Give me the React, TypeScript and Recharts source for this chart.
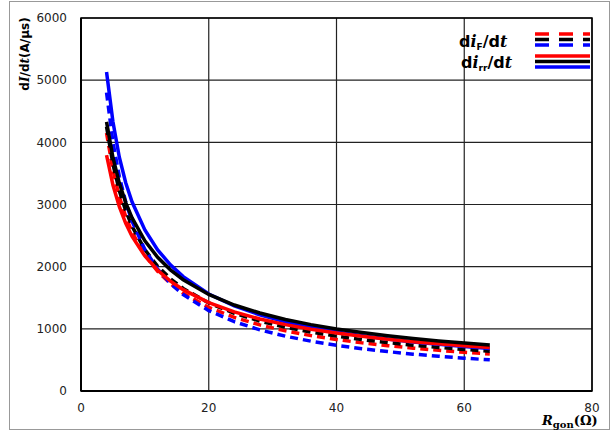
import { LineChart, Line, XAxis, YAxis, CartesianGrid, ReferenceArea } from "recharts";

// gate resistance (ohm)
const rgon = [4, 5, 6, 7, 8, 10, 12, 14, 16, 20, 24, 28, 32, 36, 40, 44, 48, 52, 56, 60, 64];

// diF/dt (dashed)
const diFRed = [4150, 3550, 3125, 2805, 2555, 2185, 1924, 1727, 1572, 1345, 1184, 1063, 968, 891, 828, 774, 729, 689, 654, 623, 596];
const diFBlack = [4250, 3649, 3222, 2900, 2647, 2273, 2007, 1806, 1649, 1416, 1250, 1125, 1027, 948, 882, 826, 779, 737, 701, 669, 640];
const diFBlue = [4800, 4002, 3449, 3042, 2728, 2275, 1960, 1729, 1551, 1293, 1115, 983, 882, 801, 735, 680, 634, 593, 559, 528, 501];

// dirr/dt (solid)
const dirrRed = [3796, 3313, 2964, 2698, 2487, 2171, 1942, 1768, 1630, 1422, 1272, 1158, 1068, 994, 932, 879, 834, 794, 759, 728, 700];
const dirrBlack = [4330, 3756, 3345, 3031, 2785, 2415, 2151, 1949, 1790, 1553, 1383, 1254, 1151, 1068, 999, 940, 889, 845, 806, 772, 740];
const dirrBlue = [5130, 4330, 3760, 3350, 3040, 2590, 2270, 2030, 1840, 1560, 1370, 1225, 1115, 1025, 950, 890, 835, 790, 750, 715, 685];

const xTicks = [0, 20, 40, 60, 80];
const yTicks = [0, 1000, 2000, 3000, 4000, 5000, 6000];

const data = rgon.map((r, i) => ({
  r,
  fRed: diFRed[i],
  fBlack: diFBlack[i],
  fBlue: diFBlue[i],
  rrRed: dirrRed[i],
  rrBlack: dirrBlack[i],
  rrBlue: dirrBlue[i],
}));

const tickFont = { fontFamily: "DejaVu Sans", fontSize: 12, fill: "#222" };
const dash = "8 5";

const App = () => {
  return (
    <div style={{ position: "absolute", left: 0, top: 0, width: 613, height: 432 }}>
      <div
        style={{
          position: "absolute",
          left: 9,
          top: 1,
          width: 601,
          height: 429,
          border: "1px solid #999",
          boxSizing: "border-box",
        }}
      />
      <LineChart
        width={613}
        height={432}
        data={data}
        margin={{ top: 18, right: 21, bottom: 11, left: 21 }}
        style={{ position: "absolute", left: 0, top: 0 }}
      >
        <CartesianGrid stroke="#222" strokeWidth={1.2} />
        <ReferenceArea x1={0} x2={80} y1={0} y2={6000} fill="none" stroke="#000" strokeWidth={1.5} ifOverflow="visible" />
        <XAxis
          dataKey="r"
          type="number"
          domain={[0, 80]}
          ticks={xTicks}
          tick={tickFont}
          tickLine={false}
          axisLine={{ stroke: "#000", strokeWidth: 2 }}
          height={30}
          tickMargin={6}
        />
        <YAxis
          type="number"
          domain={[0, 6000]}
          ticks={yTicks}
          tick={tickFont}
          tickLine={false}
          axisLine={{ stroke: "#000", strokeWidth: 2 }}
          width={60}
          tickMargin={8}
        />
        <Line dataKey="fRed" stroke="#ff0000" strokeWidth={3.5} strokeDasharray={dash} dot={false} isAnimationActive={false} />
        <Line dataKey="fBlack" stroke="#000000" strokeWidth={3.5} strokeDasharray={dash} dot={false} isAnimationActive={false} />
        <Line dataKey="fBlue" stroke="#0000ff" strokeWidth={3.5} strokeDasharray={dash} dot={false} isAnimationActive={false} />
        <Line dataKey="rrBlue" stroke="#0000ff" strokeWidth={3.5} dot={false} isAnimationActive={false} />
        <Line dataKey="rrRed" stroke="#ff0000" strokeWidth={3.5} dot={false} isAnimationActive={false} />
        <Line dataKey="rrBlack" stroke="#000000" strokeWidth={3.5} dot={false} isAnimationActive={false} />
      </LineChart>
      <svg width={613} height={432} style={{ position: "absolute", left: 0, top: 0, pointerEvents: "none" }}>
        <text
          transform="translate(29,54) rotate(-90)"
          textAnchor="middle"
          fontFamily="DejaVu Sans"
          fontWeight="bold"
          fontSize={12}
          fill="#000"
        >
          d<tspan fontFamily="DejaVu Serif" fontStyle="italic">I</tspan>/d
          <tspan fontFamily="DejaVu Serif" fontStyle="italic">t</tspan>(A/μs)
        </text>
        <text x={542} y={425} fontFamily="DejaVu Serif" fontWeight="bold" fontSize={13} fill="#000">
          <tspan fontStyle="italic">R</tspan>
          <tspan fontSize={10} dy={3}>gon</tspan>
          <tspan dy={-3}>(Ω)</tspan>
        </text>
        <text x={459} y={47} fontFamily="DejaVu Sans" fontWeight="bold" fontSize={16} fill="#000">
          d<tspan fontFamily="DejaVu Serif" fontStyle="italic">i</tspan>
          <tspan fontSize={9} dy={3}>F</tspan>
          <tspan dy={-3}>/d</tspan>
          <tspan fontFamily="DejaVu Serif" fontStyle="italic">t</tspan>
        </text>
        <text x={461} y={68} fontFamily="DejaVu Sans" fontWeight="bold" fontSize={16} fill="#000">
          d<tspan fontFamily="DejaVu Serif" fontStyle="italic">i</tspan>
          <tspan fontSize={9} dy={3}>rr</tspan>
          <tspan dy={-3}>/d</tspan>
          <tspan fontFamily="DejaVu Serif" fontStyle="italic">t</tspan>
        </text>
        <line x1={535} x2={590} y1={34} y2={34} stroke="#ff0000" strokeWidth={3.5} strokeDasharray="14 10" />
        <line x1={535} x2={590} y1={39.5} y2={39.5} stroke="#000" strokeWidth={3.5} strokeDasharray="14 10" />
        <line x1={535} x2={590} y1={45} y2={45} stroke="#0000ff" strokeWidth={3.5} strokeDasharray="14 10" />
        <line x1={535} x2={590} y1={56} y2={56} stroke="#ff0000" strokeWidth={3.5} />
        <line x1={535} x2={590} y1={61.5} y2={61.5} stroke="#000" strokeWidth={3.5} />
        <line x1={535} x2={590} y1={67} y2={67} stroke="#0000ff" strokeWidth={3.5} />
      </svg>
    </div>
  );
};

export default App;
